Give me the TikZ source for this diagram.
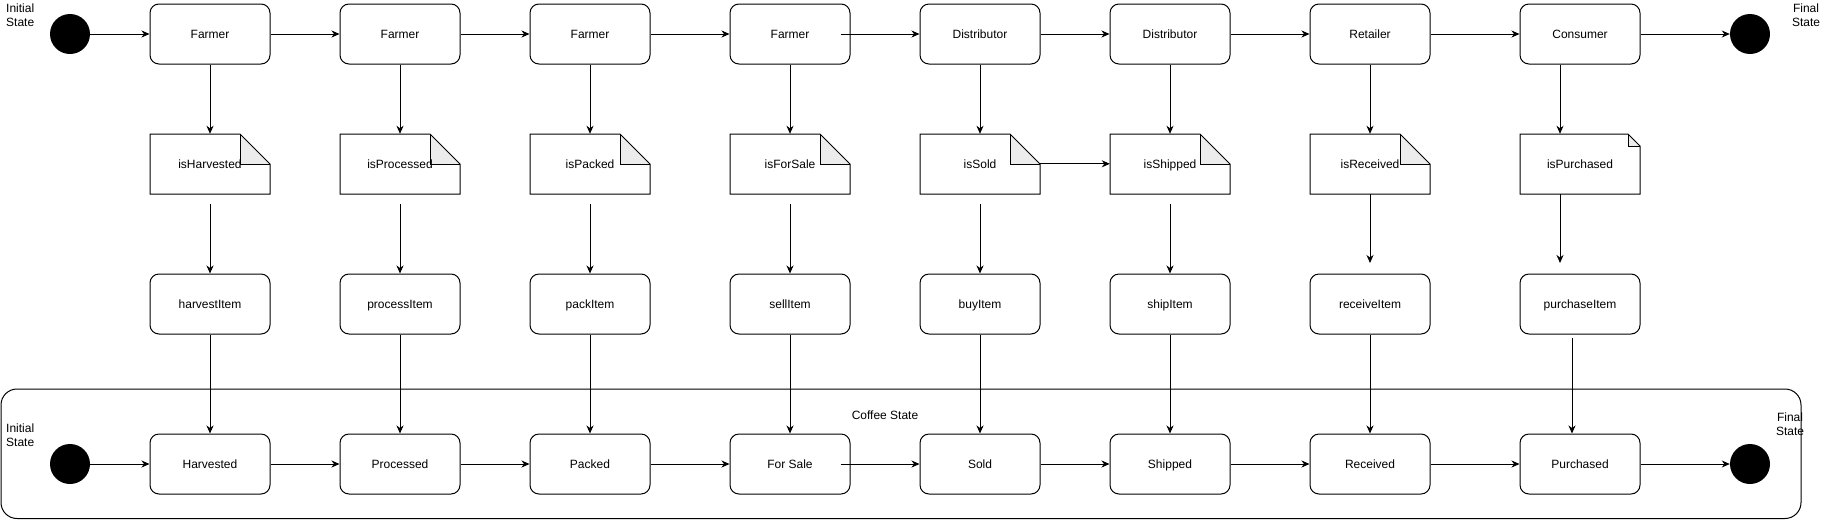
\documentclass[tikz,border=0pt]{standalone}
\usepackage{fontspec}
\setmainfont{Liberation Sans}
\usetikzlibrary{arrows.meta}
\newcommand{\mynote}[5]{%
  \fill[gray!15] (#2+60-#4,#3-30) -- (#2+60,#3-30+#4) -- (#2+60-#4,#3-30+#4) -- cycle;
  \draw[line width=1pt] (#2-60,#3-30) -- (#2+60-#4,#3-30) -- (#2+60,#3-30+#4) -- (#2+60,#3+30) -- (#2-60,#3+30) -- cycle;
  \draw[line width=1pt] (#2+60-#4,#3-30) -- (#2+60-#4,#3-30+#4) -- (#2+60,#3-30+#4);
  \node[noteb] (#1) at (#2,#3) {#5};}
\begin{document}
\begin{tikzpicture}[x=1pt,y=-1pt,font=\fontsize{12}{14}\selectfont,
  stbox/.style={draw,line width=1pt,rounded corners=9pt,minimum width=120pt,minimum height=60pt,fill=white,inner sep=0pt,text height=8.6pt,text depth=0pt},
  noteb/.style={minimum width=120pt,minimum height=60pt,inner sep=0pt,text height=8.6pt,text depth=0pt},
  dot/.style={circle,fill=black,minimum size=40pt,inner sep=0pt},
  conn/.style={-{Stealth[length=8pt,width=7pt,inset=2.5pt]},line width=1pt},
  lbl/.style={inner sep=0pt}]
\useasboundingbox (0,0) rectangle (1831,520);
\fill[white] (0,0) rectangle (1831,520);
% container
\draw[line width=1pt,rounded corners=16pt] (1,389) rectangle (1801,518.5);
% labels
\node[lbl,anchor=west,align=left] (lt1) at (6,15) {Initial\\State};
\node[lbl,align=center] (lt2) at (1806,15) {Final\\State};
\node[lbl,anchor=west,align=left] (lt3) at (6,435) {Initial\\State};
\node[lbl,align=center] (lt4) at (1790,424.5) {Final\\State};
\node[lbl,text height=8.6pt,text depth=0pt] (lt5) at (885,415) {Coffee State};
% row 1
\node[dot] (i1) at (70,34) {};
\node[stbox] (f1) at (210,34) {Farmer};
\node[stbox] (f2) at (400,34) {Farmer};
\node[stbox] (f3) at (590,34) {Farmer};
\node[stbox] (f4) at (790,34) {Farmer};
\node[stbox] (d1) at (980,34) {Distributor};
\node[stbox] (d2) at (1170,34) {Distributor};
\node[stbox] (r1) at (1370,34) {Retailer};
\node[stbox] (c1) at (1580,34) {Consumer};
\node[dot] (e1) at (1750,34) {};
% row 2 notes
\mynote{n1}{210}{164}{30}{isHarvested}
\mynote{n2}{400}{164}{30}{isProcessed}
\mynote{n3}{590}{164}{30}{isPacked}
\mynote{n4}{790}{164}{30}{isForSale}
\mynote{n5}{980}{164}{30}{isSold}
\mynote{n6}{1170}{164}{30}{isShipped}
\mynote{n7}{1370}{164}{30}{isReceived}
\mynote{n8}{1580}{164}{12}{isPurchased}
% row 3
\node[stbox] (a1) at (210,304) {harvestItem};
\node[stbox] (a2) at (400,304) {processItem};
\node[stbox] (a3) at (590,304) {packItem};
\node[stbox] (a4) at (790,304) {sellItem};
\node[stbox] (a5) at (980,304) {buyItem};
\node[stbox] (a6) at (1170,304) {shipItem};
\node[stbox] (a7) at (1370,304) {receiveItem};
\node[stbox] (a8) at (1580,304) {purchaseItem};
% row 4
\node[dot] (i2) at (70,464) {};
\node[stbox] (s1) at (210,464) {Harvested};
\node[stbox] (s2) at (400,464) {Processed};
\node[stbox] (s3) at (590,464) {Packed};
\node[stbox] (s4) at (790,464) {For Sale};
\node[stbox] (s5) at (980,464) {Sold};
\node[stbox] (s6) at (1170,464) {Shipped};
\node[stbox] (s7) at (1370,464) {Received};
\node[stbox] (s8) at (1580,464) {Purchased};
\node[dot] (e2) at (1750,464) {};
\coordinate (t7) at (1370,263);
\coordinate (t8) at (1560,263);
% row 1 connectors
\draw[conn] (i1) -- (f1);
\draw[conn] (f1) -- (f2);
\draw[conn] (f2) -- (f3);
\draw[conn] (f3) -- (f4);
\draw[conn] ([xshift=-10pt]f4.east) -- (d1);
\draw[conn] (d1) -- (d2);
\draw[conn] (d2) -- (r1);
\draw[conn] (r1) -- (c1);
\draw[conn] (c1) -- (e1);
% row 1 -> row 2
\draw[conn] (f1) -- (n1);
\draw[conn] (f2) -- (n2);
\draw[conn] (f3) -- (n3);
\draw[conn] (f4) -- (n4);
\draw[conn] (d1) -- (n5);
\draw[conn] (d2) -- (n6);
\draw[conn] (r1) -- (n7);
\draw[conn] ([xshift=-20pt]c1.south) -- ([xshift=-20pt]n8.north);
\draw[conn] ([yshift=-30pt]n5.north east) -- ([yshift=-30pt]n6.north west);
% row 2 -> row 3
\draw[conn] ([yshift=-10pt]n1.south) -- (a1);
\draw[conn] ([yshift=-10pt]n2.south) -- (a2);
\draw[conn] ([yshift=-10pt]n3.south) -- (a3);
\draw[conn] ([yshift=-10pt]n4.south) -- (a4);
\draw[conn] ([yshift=-10pt]n5.south) -- (a5);
\draw[conn] ([yshift=-10pt]n6.south) -- (a6);
\draw[conn] (n7.south) -- (t7);
\draw[conn] ([xshift=-20pt]n8.south) -- (t8);
% row 3 -> row 4
\draw[conn] (a1) -- (s1);
\draw[conn] (a2) -- (s2);
\draw[conn] (a3) -- (s3);
\draw[conn] (a4) -- (s4);
\draw[conn] (a5) -- (s5);
\draw[conn] (a6) -- (s6);
\draw[conn] (a7) -- (s7);
\draw[conn] ([xshift=-8pt,yshift=-3pt]a8.south) -- ([xshift=-8pt]s8.north);
% row 4 connectors
\draw[conn] (i2) -- (s1);
\draw[conn] (s1) -- (s2);
\draw[conn] (s2) -- (s3);
\draw[conn] (s3) -- (s4);
\draw[conn] ([xshift=-10pt]s4.east) -- (s5);
\draw[conn] (s5) -- (s6);
\draw[conn] (s6) -- (s7);
\draw[conn] (s7) -- (s8);
\draw[conn] (s8) -- (e2);
\end{tikzpicture}
\end{document}
